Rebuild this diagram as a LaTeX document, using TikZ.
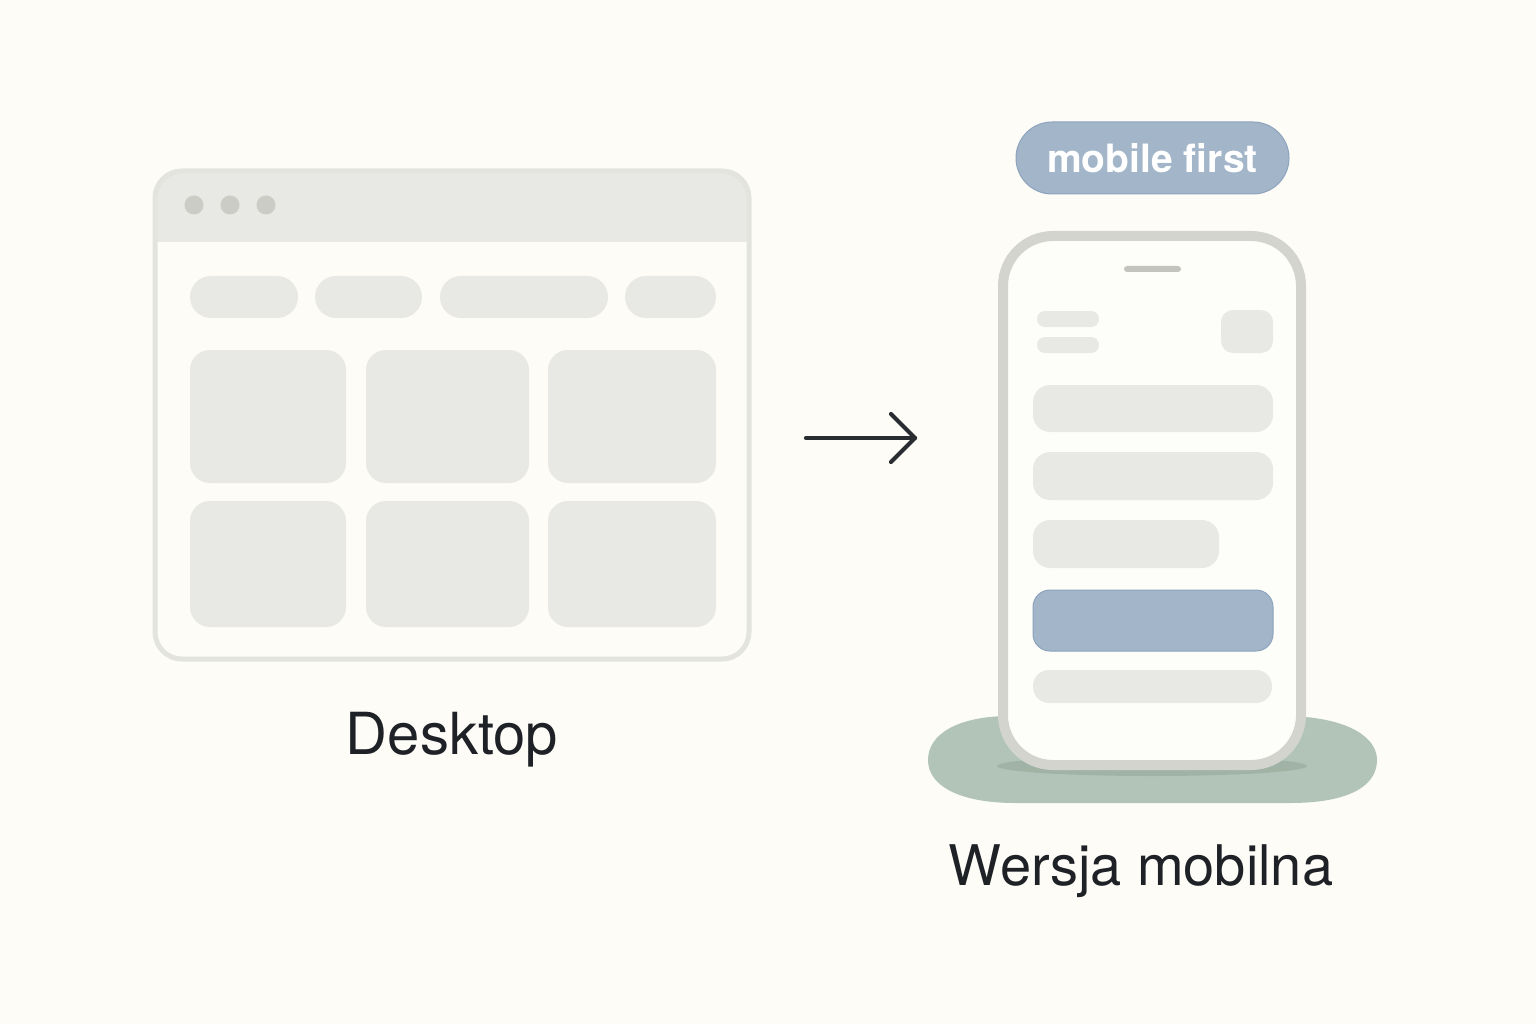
\documentclass[tikz,border=0pt]{standalone}
\usepackage{fontspec}
\setmainfont{TeX Gyre Heros}
\usetikzlibrary{calc}
\definecolor{bgc}{HTML}{FDFCF7}
\definecolor{frame}{HTML}{E4E4DF}
\definecolor{bar}{HTML}{E8E8E4}
\definecolor{dotc}{HTML}{CACCC5}
\definecolor{phoneb}{HTML}{D3D4CE}
\definecolor{phonein}{HTML}{FDFDF9}
\definecolor{blueb}{HTML}{A3B5C8}
\definecolor{bluel}{HTML}{8DA4BE}
\definecolor{greenp}{HTML}{B2C4B7}
\definecolor{greens}{HTML}{A0B3A5}
\definecolor{ink}{HTML}{1E2126}
\definecolor{spk}{HTML}{C3C4BE}
\tikzset{
  block/.style={fill=bar},
  label/.style={text=ink, inner sep=0pt, anchor=base},
}
\begin{document}
\begin{tikzpicture}[x=1pt,y=-1pt]
\useasboundingbox (0,0) rectangle (1536,1024);
\fill[bgc] (0,0) rectangle (1536,1024);

% ---------- Desktop browser window ----------
\fill[bgc, rounded corners=27] (155,171) rectangle (749,659);
\begin{scope}
  \clip[rounded corners=27] (155,171) rectangle (749,659);
  \fill[bar] (155,171) rectangle (749,242);
\end{scope}
\draw[frame, line width=5, rounded corners=27] (155,171) rectangle (749,659);
\foreach \x in {194,230,266} \fill[dotc] (\x,205) circle (9.5);
% nav pills
\foreach \a/\b in {190/298,315/422,440/608,625/716}
  \fill[block, rounded corners=21] (\a,276) rectangle (\b,318);
% cards
\foreach \a/\b in {190/346,366/529,548/716}{
  \fill[block, rounded corners=20] (\a,350) rectangle (\b,483);
  \fill[block, rounded corners=20] (\a,501) rectangle (\b,627);
}
\node[label, font=\fontsize{58}{64}\selectfont] (desk) at (452,754) {Desktop};

% ---------- Arrow ----------
\coordinate (arrS) at (806,438);
\coordinate (arrE) at (915,438);
\draw[ink!95, line width=4.2, line cap=round] (arrS) -- (arrE);
\draw[ink!95, line width=4.2, line cap=round, line join=round]
  ($(arrE)+(-24,-24)$) -- (arrE) -- ($(arrE)+(-24,24)$);

% ---------- Mobile ----------
% platform
\fill[greenp] (1010,716) -- (1290,716)
  .. controls (1350,718) and (1377,738) .. (1377,760)
  .. controls (1377,788) and (1345,803) .. (1290,803)
  -- (1015,803)
  .. controls (960,803) and (928,786) .. (928,760)
  .. controls (928,734) and (958,716) .. (1010,716) -- cycle;
\fill[greens] (1152,766) ellipse (155 and 10);
% phone
\fill[phonein, rounded corners=50] (1003,236) rectangle (1301,765);
\draw[phoneb, line width=10, rounded corners=50] (1003,236) rectangle (1301,765);
\fill[spk, rounded corners=3] (1124,266) rectangle (1181,272);
\fill[block, rounded corners=8] (1037,311) rectangle (1099,327);
\fill[block, rounded corners=8] (1037,337) rectangle (1099,353);
\fill[block, rounded corners=12] (1221,310) rectangle (1273,353);
\fill[block, rounded corners=17] (1033,385) rectangle (1273,432);
\fill[block, rounded corners=17] (1033,452) rectangle (1273,500);
\fill[block, rounded corners=17] (1033,520) rectangle (1219,568);
\filldraw[fill=blueb, draw=bluel, line width=1, rounded corners=17] (1033,590) rectangle (1273,651);
\fill[block, rounded corners=16] (1033,670) rectangle (1272,703);

% badge
\node[fill=blueb, draw=bluel, line width=1, rounded corners=36, minimum width=273, minimum height=72,
      inner sep=0pt, text=white, font=\bfseries\fontsize{39}{46}\selectfont] (badge) at (1152.5,158) {mobile first};

\node[label, font=\fontsize{56}{62}\selectfont] (mob) at (1141,885) {Wersja mobilna};
\end{tikzpicture}
\end{document}
